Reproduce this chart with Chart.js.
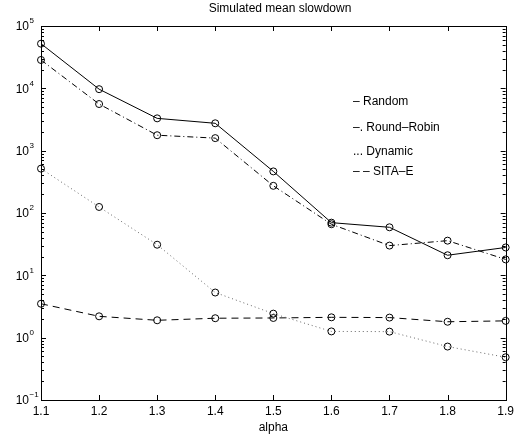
<!DOCTYPE html>
<html>
<head>
<meta charset="utf-8">
<script src="https://cdn.jsdelivr.net/npm/chart.js@4/dist/chart.umd.min.js"></script>
<style>
  html, body { margin: 0; padding: 0; background: #fff; }
  #wrap { width: 518px; height: 437px; }
</style>
</head>
<body>
<div id="wrap"><canvas id="slowChart"></canvas></div>
<script>
// x values (alpha)
const alphas = [1.1, 1.2, 1.3, 1.4, 1.5, 1.6, 1.7, 1.8, 1.9];

// mean slowdown per policy
const randomVals = [52000, 9700, 3300, 2750, 465, 70, 59, 21, 28];
const roundRobinVals = [28500, 5600, 1770, 1590, 273, 66, 30, 36, 18];
const dynamicVals = [515, 125, 31, 5.3, 2.43, 1.26, 1.25, 0.72, 0.485];
const sitaVals = [3.5, 2.2, 1.9, 2.05, 2.07, 2.12, 2.1, 1.8, 1.86];

// y axis decades (exponents)
const decadeExps = [-1, 0, 1, 2, 3, 4, 5];

// text legend like the matlab one
const legendLines = ['\u2013 Random', '\u2013. Round\u2013Robin', '... Dynamic', '\u2013 \u2013 SITA\u2013E'];

const FONT = '"Liberation Sans", Arial, Helvetica, sans-serif';

function series(label, vals, dash, color) {
  return {
    label: label,
    data: alphas.map((a, i) => ({ x: a, y: vals[i] })),
    borderColor: color,
    borderWidth: 1,
    borderDash: dash,
    pointStyle: 'circle',
    pointRadius: 3.5,
    pointBorderColor: '#000',
    pointBackgroundColor: 'rgba(0,0,0,0)',
    pointBorderWidth: 1,
    tension: 0,
    clip: false
  };
}

// frame, inward ticks, y labels, title, legend
const decorPlugin = {
  id: 'decor',
  afterDraw(chart) {
    const ctx = chart.ctx;
    const a = chart.chartArea;
    const xs = chart.scales.x;
    const ys = chart.scales.y;
    ctx.save();
    ctx.strokeStyle = '#000';
    ctx.lineWidth = 1;
    ctx.setLineDash([]);
    ctx.strokeRect(Math.round(a.left) + 0.5, Math.round(a.top) + 0.5,
      Math.round(a.right - a.left), Math.round(a.bottom - a.top));

    ctx.beginPath();
    // x ticks top and bottom
    alphas.forEach(v => {
      const px = Math.round(xs.getPixelForValue(v)) + 0.5;
      ctx.moveTo(px, a.top); ctx.lineTo(px, a.top + 5);
      ctx.moveTo(px, a.bottom); ctx.lineTo(px, a.bottom - 5);
    });
    // y ticks, major + minor, left and right
    decadeExps.forEach(e => {
      for (let m = 1; m <= 9; m++) {
        const v = m * Math.pow(10, e);
        if (v > 1e5 + 1) continue;
        const py = Math.round(ys.getPixelForValue(v)) + 0.5;
        const len = m === 1 ? 5 : 3;
        ctx.moveTo(a.left, py); ctx.lineTo(a.left + len, py);
        ctx.moveTo(a.right, py); ctx.lineTo(a.right - len, py);
      }
    });
    ctx.stroke();

    // y labels 10^n
    ctx.fillStyle = '#000';
    decadeExps.forEach(e => {
      const py = ys.getPixelForValue(Math.pow(10, e));
      ctx.font = '12px ' + FONT;
      ctx.textAlign = 'right';
      ctx.textBaseline = 'middle';
      ctx.fillText('10', 29, py + 1);
      ctx.font = '8px ' + FONT;
      ctx.textAlign = 'left';
      ctx.fillText(e < 0 ? '\u2212' + Math.abs(e) : String(e), 29.5, py - 5);
    });

    // title
    ctx.font = '12px ' + FONT;
    ctx.textAlign = 'center';
    ctx.textBaseline = 'middle';
    ctx.fillText('Simulated mean slowdown', 280, 9);

    // legend
    ctx.textAlign = 'left';
    const legY = [102, 128, 152, 172];
    legendLines.forEach((t, i) => ctx.fillText(t, 353, legY[i]));
    ctx.restore();
  }
};

new Chart(document.getElementById('slowChart'), {
  type: 'line',
  data: {
    datasets: [
      series('Random', randomVals, [], '#000'),
      series('Round-Robin', roundRobinVals, [6, 3, 1, 3], '#000'),
      series('Dynamic', dynamicVals, [1, 3], '#666'),
      series('SITA-E', sitaVals, [7, 5], '#000')
    ]
  },
  options: {
    responsive: true,
    maintainAspectRatio: false,
    animation: false,
    layout: { padding: { top: 26, right: 7, left: 0, bottom: 0 } },
    plugins: {
      legend: { display: false },
      tooltip: { enabled: false }
    },
    scales: {
      x: {
        type: 'linear',
        min: 1.1,
        max: 1.9,
        grid: { display: false, drawTicks: false },
        border: { display: false },
        ticks: {
          stepSize: 0.1,
          color: '#000',
          font: { family: FONT, size: 12 },
          padding: 4,
          callback: v => v.toFixed(1)
        },
        title: {
          display: true,
          text: 'alpha',
          color: '#000',
          font: { family: FONT, size: 12 },
          padding: { top: 0, bottom: 2 }
        },
        afterFit: s => { s.height = 37; }
      },
      y: {
        type: 'logarithmic',
        min: 0.1,
        max: 100000,
        grid: { display: false },
        border: { display: false },
        ticks: { display: false },
        afterFit: s => { s.width = 41; }
      }
    }
  },
  plugins: [decorPlugin]
});
</script>
</body>
</html>
